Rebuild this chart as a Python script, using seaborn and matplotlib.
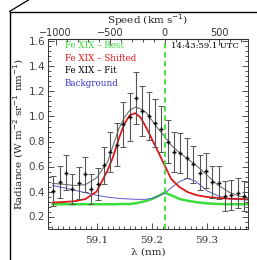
import matplotlib
matplotlib.use("Agg")
import matplotlib.pyplot as plt
from matplotlib.lines import Line2D
from matplotlib.ticker import MultipleLocator, FixedLocator
import seaborn as sns
import pandas as pd
import numpy as np

# observed spectrum (nm, W m-2 sr-1 nm-1)
lam_obs = [59.0215, 59.0331, 59.0445, 59.0561, 59.0676, 59.0790, 59.0906, 59.1022,
           59.1136, 59.1251, 59.1367, 59.1481, 59.1597, 59.1712, 59.1826, 59.1942,
           59.2058, 59.2172, 59.2288, 59.2403, 59.2517, 59.2633, 59.2749, 59.2863,
           59.2978, 59.3094, 59.3208, 59.3324, 59.3439, 59.3553, 59.3669]
rad_obs = [0.405, 0.475, 0.55, 0.42, 0.467, 0.54, 0.424, 0.46,
           0.61, 0.72, 0.775, 0.94, 0.995, 1.147, 1.045, 1.006,
           0.95, 0.90, 0.80, 0.718, 0.707, 0.666, 0.618, 0.55,
           0.566, 0.478, 0.472, 0.362, 0.374, 0.392, 0.362]
err_obs = [0.12, 0.13, 0.14, 0.12, 0.13, 0.14, 0.12, 0.13,
           0.15, 0.16, 0.17, 0.18, 0.19, 0.21, 0.20, 0.19,
           0.19, 0.18, 0.17, 0.16, 0.16, 0.16, 0.15, 0.14,
           0.14, 0.13, 0.13, 0.12, 0.12, 0.12, 0.12]

# fitted components
lam_fit = [59.02, 59.04, 59.06, 59.08, 59.10, 59.12, 59.13, 59.14, 59.15, 59.16,
           59.17, 59.18, 59.19, 59.20, 59.21, 59.223, 59.235, 59.25, 59.265, 59.28,
           59.30, 59.32, 59.34, 59.36, 59.374]
rest = [0.298, 0.298, 0.298, 0.298, 0.298, 0.298, 0.298, 0.299, 0.300, 0.300,
        0.305, 0.315, 0.325, 0.340, 0.360, 0.392, 0.370, 0.340, 0.326, 0.315,
        0.305, 0.300, 0.298, 0.298, 0.298]
shifted = [0.312, 0.316, 0.322, 0.34, 0.40, 0.57, 0.68, 0.82, 0.94, 1.01,
           1.027, 0.99, 0.91, 0.82, 0.73, 0.61, 0.50, 0.435, 0.395, 0.372,
           0.356, 0.348, 0.343, 0.34, 0.338]
fit = [0.465, 0.458, 0.448, 0.455, 0.51, 0.64, 0.77, 0.90, 0.99, 1.05,
       1.075, 1.06, 1.03, 0.97, 0.91, 0.84, 0.77, 0.71, 0.66, 0.61,
       0.53, 0.45, 0.395, 0.36, 0.345]
background = [0.448, 0.43, 0.41, 0.39, 0.37, 0.355, 0.35, 0.345, 0.342, 0.34,
              0.338, 0.337, 0.338, 0.345, 0.36, 0.385, 0.43, 0.48, 0.505, 0.48,
              0.405, 0.365, 0.34, 0.335, 0.333]

speed_ticks = [-1000, -500, 0, 500]
lam_rest = 59.2235
c_kms = 299792.458
time_label = "14:43:59.1 UTC"

df = pd.DataFrame({"lam": lam_fit, "rest": rest, "shifted": shifted,
                   "fit": fit, "background": background})

sns.set_style("ticks")
serif = ["DejaVu Serif"]

fig = plt.figure(figsize=(2.57, 2.60), dpi=100)
ax = fig.add_axes([48 / 257, 1 - 229 / 260, 200 / 257, 190 / 260])

sns.lineplot(data=df, x="lam", y="rest", ax=ax, color="#3ddc3d", lw=1.8)
sns.lineplot(data=df, x="lam", y="background", ax=ax, color="#5a5ac8", lw=0.7)
sns.lineplot(data=df, x="lam", y="shifted", ax=ax, color="#e01818", lw=1.3)
sns.lineplot(data=df, x="lam", y="fit", ax=ax, color="#707070", lw=0.8)
ax.errorbar(lam_obs, rad_obs, yerr=err_obs, fmt="none", ecolor="#555555",
            elinewidth=0.8, capsize=2, capthick=0.7)
ax.plot(lam_obs, rad_obs, ls="none", marker="+", color="black", ms=3, mew=1.0)
ax.axvline(lam_rest, color="#3ddc3d", ls=(0, (3, 2)), lw=1.3)

ax.set_xlim(59.012, 59.374)
ax.set_ylim(0.1, 1.62)
ax.xaxis.set_major_locator(MultipleLocator(0.1))
ax.xaxis.set_minor_locator(MultipleLocator(0.01))
ax.yaxis.set_major_locator(MultipleLocator(0.2))
ax.yaxis.set_minor_locator(MultipleLocator(0.04))
ax.tick_params(which="both", direction="in", top=False, right=True, width=0.6,
               color="#333333")
ax.tick_params(which="major", length=4)
ax.tick_params(which="minor", length=2)
ax.tick_params(axis="y", labelsize=7.5, labelcolor="#444444", pad=2)
ax.tick_params(axis="x", labelsize=7.5, labelcolor="#333333", pad=5)
for t in ax.get_xticklabels():
    t.set_family(serif)
for s in ax.spines.values():
    s.set_linewidth(0.7)
    s.set_color("#333333")

ax.set_xlabel("λ (nm)", family=serif, fontsize=7.5, labelpad=2)
ax.set_ylabel("Radiance (W m$^{-2}$ sr$^{-1}$ nm$^{-1}$)", family=serif,
              fontsize=7.5, labelpad=2)

sec = ax.secondary_xaxis("top",
                         functions=(lambda l: (l - lam_rest) / lam_rest * c_kms,
                                    lambda v: lam_rest * (1 + v / c_kms)))
sec.xaxis.set_major_locator(FixedLocator(speed_ticks))
sec.xaxis.set_minor_locator(MultipleLocator(100))
sec.tick_params(which="both", direction="in", width=0.6, color="#333333")
sec.tick_params(which="major", length=4, labelsize=7, labelcolor="#333333", pad=1)
sec.tick_params(which="minor", length=2)
sec.set_xlabel("Speed (km s$^{-1}$)", family=serif, fontsize=7.5, labelpad=2.5)

labels = [("Fe XIX – Rest", "#3ddc3d"), ("Fe XIX – Shifted", "#e01818"),
          ("Fe XIX – Fit", "black"), ("Background", "#3030c8")]
for i, (txt, col) in enumerate(labels):
    ax.text(0.085, 0.965 - i * 0.066, txt, color=col, family=serif, fontsize=6.3,
            transform=ax.transAxes, va="center", ha="left")
ax.text(0.955, 0.965, time_label, color="black", family=serif, fontsize=6,
        transform=ax.transAxes, va="center", ha="right")

# frame of the surrounding panel
W, H = 257, 260
fig.add_artist(Line2D([9.5 / W, 9.5 / W], [0, 1 - 11.5 / H], color="black", lw=1.0,
                      transform=fig.transFigure))
fig.add_artist(Line2D([9.5 / W, 1], [1 - 11.5 / H, 1 - 11.5 / H], color="black",
                      lw=1.0, transform=fig.transFigure))
fig.add_artist(Line2D([9.5 / W, 28.5 / W], [1 - 11.5 / H, 1], color="black", lw=0.9,
                      transform=fig.transFigure))

fig.savefig("out.png", dpi=100)
